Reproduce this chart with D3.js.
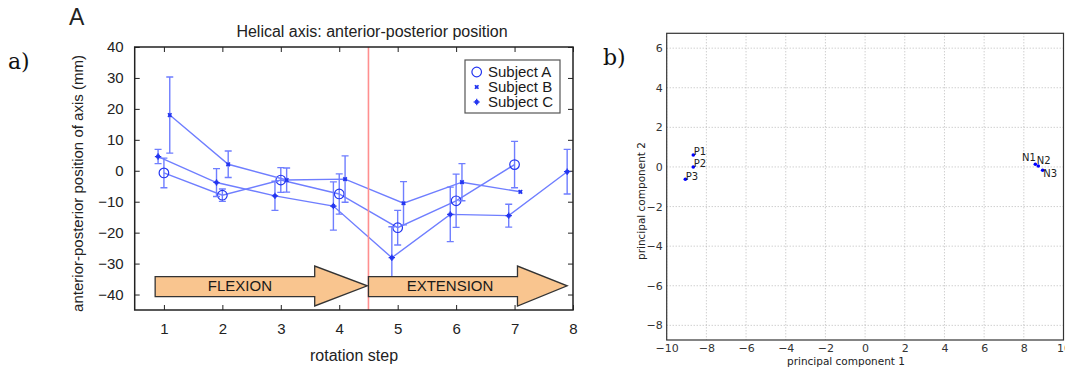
<!DOCTYPE html>
<html>
<head>
<meta charset="utf-8">
<script src="https://cdn.jsdelivr.net/npm/d3@7"></script>
<style>
  html, body { margin: 0; padding: 0; background: #fff; }
  svg { display: block; }
</style>
</head>
<body>
<svg id="fig" width="1065" height="367"></svg>
<script>
// ---- Panel a: helical axis anterior-posterior position ----
const stepsA = [1, 2, 3, 4, 5, 6, 7];
const subjectA = [-0.7, -7.9, -3.0, -7.5, -18.4, -9.7, 2.0];
const subjectAErr = [4.8, 2.0, 4.0, 6.5, 5.6, 8.6, 7.5];

const stepsB = [1.1, 2.1, 3.1, 4.1, 5.1, 6.1, 7.1];
const subjectB = [18.0, 2.1, -3.0, -2.7, -10.5, -3.7, -6.8];
const subjectBErr = [12.3, 4.3, 3.9, 7.5, 7.0, 6.0, null];

const stepsC = [0.9, 1.9, 2.9, 3.9, 4.9, 5.9, 6.9, 7.9];
const subjectC = [4.6, -3.8, -8.1, -11.4, -28.1, -14.1, -14.5, -0.3];
const subjectCErr = [2.3, 4.5, 4.7, 7.8, 10.0, 8.8, 3.7, 7.2];

const stepTicks = [1, 2, 3, 4, 5, 6, 7, 8];
const positionTicks = [-40, -30, -20, -10, 0, 10, 20, 30, 40];
const seriesNames = ["Subject A", "Subject B", "Subject C"];
const phaseNames = ["FLEXION", "EXTENSION"];
const phaseSplit = 4.5;

// ---- Panel b: principal component scores ----
const pcNames = ["P1", "P2", "P3", "N1", "N2", "N3"];
const pc1 = [-8.66, -8.66, -9.06, 8.58, 8.73, 8.95];
const pc2 = [0.6, 0.0, -0.62, 0.14, 0.05, -0.17];
const pc1Ticks = [-10, -8, -6, -4, -2, 0, 2, 4, 6, 8, 10];
const pc2Ticks = [-8, -6, -4, -2, 0, 2, 4, 6];

const svg = d3.select("#fig");
const SANS = "'Liberation Sans', Arial, sans-serif";
const DEJAVU = "'DejaVu Sans', sans-serif";
const SERIF = "'DejaVu Serif', 'Liberation Serif', serif";
const lineBlue = "#6f7eff";
const markBlue = "#2436f0";
const ink = "#222";

// panel tags
svg.append("text").attr("x", 8).attr("y", 69).attr("font-family", SERIF)
  .attr("font-size", 22).attr("fill", "#111").text("a)");
svg.append("text").attr("x", 603).attr("y", 65).attr("font-family", SERIF)
  .attr("font-size", 22).attr("fill", "#111").text("b)");

// ================= Panel a =================
const ga = svg.append("g");
const L = 134.7, R = 573, T = 47, B = 310;
const x = d3.scaleLinear().domain([0.5, 8]).range([L, R]);
const y = d3.scaleLinear().domain([-45, 40]).range([B, T]);

ga.append("text").attr("x", 69).attr("y", 25).attr("font-family", SANS)
  .attr("font-size", 23).attr("fill", ink).text("A");
ga.append("text").attr("x", 372).attr("y", 37).attr("text-anchor", "middle")
  .attr("font-family", SANS).attr("font-size", 16).attr("fill", ink)
  .text("Helical axis: anterior-posterior position");

// axes with inward ticks on all four sides
const axBottom = d3.axisBottom(x).tickValues(stepTicks).tickSize(-5).tickPadding(13).tickFormat(d3.format("d"));
const axTop = d3.axisTop(x).tickValues(stepTicks).tickSize(-5).tickFormat("");
const axLeft = d3.axisLeft(y).tickValues(positionTicks).tickSize(-5).tickPadding(11).tickFormat(d3.format("d"));
const axRight = d3.axisRight(y).tickValues(positionTicks).tickSize(-5).tickFormat("");

function styleAxis(g, fs) {
  g.select(".domain").remove();
  g.selectAll(".tick line").attr("stroke", ink).attr("stroke-width", 1);
  g.selectAll(".tick text").attr("font-family", SANS).attr("font-size", fs).attr("fill", ink);
}
ga.append("g").attr("transform", `translate(0,${B})`).call(axBottom).call(g => styleAxis(g, 15));
ga.append("g").attr("transform", `translate(0,${T})`).call(axTop).call(g => styleAxis(g, 15));
ga.append("g").attr("transform", `translate(${L},0)`).call(axLeft).call(g => styleAxis(g, 15));
ga.append("g").attr("transform", `translate(${R},0)`).call(axRight).call(g => styleAxis(g, 15));

ga.append("text").attr("x", 354).attr("y", 361).attr("text-anchor", "middle")
  .attr("font-family", SANS).attr("font-size", 16).attr("fill", ink).text("rotation step");
ga.append("text").attr("transform", `translate(83,${(T + B) / 2 + 5}) rotate(-90)`)
  .attr("text-anchor", "middle").attr("font-family", SANS).attr("font-size", 15)
  .attr("fill", ink).text("anterior-posterior position of axis (mm)");

const plot = ga.append("g");
const series = [
  { xs: stepsA, ys: subjectA, err: subjectAErr, mark: "circle" },
  { xs: stepsB, ys: subjectB, err: subjectBErr, mark: "x" },
  { xs: stepsC, ys: subjectC, err: subjectCErr, mark: "star" }
];
const line = d3.line().x(d => x(d[0])).y(d => y(d[1]));

function drawMarker(g, kind, cx, cy) {
  if (kind === "circle") {
    g.append("circle").attr("cx", cx).attr("cy", cy).attr("r", 4.8)
      .attr("fill", "none").attr("stroke", markBlue).attr("stroke-width", 1.2);
  } else if (kind === "x") {
    const s = 1.8;
    g.append("path").attr("d", `M${cx - s},${cy - s}L${cx + s},${cy + s}M${cx - s},${cy + s}L${cx + s},${cy - s}`)
      .attr("stroke", markBlue).attr("stroke-width", 1.6);
    g.append("circle").attr("cx", cx).attr("cy", cy).attr("r", 1.6).attr("fill", markBlue);
  } else {
    const s = 3.2;
    g.append("path").attr("d", `M${cx - s},${cy}L${cx + s},${cy}M${cx},${cy - s}L${cx},${cy + s}`)
      .attr("stroke", markBlue).attr("stroke-width", 1.2);
    g.append("circle").attr("cx", cx).attr("cy", cy).attr("r", 2.2).attr("fill", markBlue);
  }
}

series.forEach(s => {
  const pts = s.xs.map((v, i) => [v, s.ys[i]]);
  plot.append("path").attr("d", line(pts)).attr("fill", "none")
    .attr("stroke", lineBlue).attr("stroke-width", 1.4);
  pts.forEach((p, i) => {
    const e = s.err[i];
    if (e == null) return;
    const cx = x(p[0]), y0 = y(p[1] + e), y1 = y(p[1] - e);
    plot.append("path")
      .attr("d", `M${cx},${y0}L${cx},${y1}M${cx - 3.5},${y0}L${cx + 3.5},${y0}M${cx - 3.5},${y1}L${cx + 3.5},${y1}`)
      .attr("stroke", lineBlue).attr("stroke-width", 1.4).attr("fill", "none");
  });
  pts.forEach(p => drawMarker(plot, s.mark, x(p[0]), y(p[1])));
});

// phase boundary
ga.append("line").attr("x1", x(phaseSplit)).attr("x2", x(phaseSplit)).attr("y1", T).attr("y2", B)
  .attr("stroke", "#ff8f8f").attr("stroke-width", 1.6);

// phase arrows
function arrow(x0, xShaft, xTip, label) {
  const bt = y(-34.2), bb = y(-40.7), ht = y(-30.8), hb = y(-43.7), mid = y(-37.2);
  const d = `M${x(x0)},${bt}L${x(xShaft)},${bt}L${x(xShaft)},${ht}L${x(xTip)},${mid}` +
            `L${x(xShaft)},${hb}L${x(xShaft)},${bb}L${x(x0)},${bb}Z`;
  ga.append("path").attr("d", d).attr("fill", "#f9c58f").attr("stroke", "#333").attr("stroke-width", 1.3);
  ga.append("text").attr("x", (x(x0) + x(xShaft)) / 2 + (label === "FLEXION" ? 5 : 7)).attr("y", mid + 5.5)
    .attr("text-anchor", "middle").attr("font-family", SANS).attr("font-size", 15)
    .attr("fill", "#1a1a1a").text(label);
}
arrow(0.85, 3.58, 4.48, phaseNames[0]);
arrow(phaseSplit, 7.05, 7.9, phaseNames[1]);

// frame
ga.append("rect").attr("x", L).attr("y", T).attr("width", R - L).attr("height", B - T)
  .attr("fill", "none").attr("stroke", ink).attr("stroke-width", 1.5);

// legend
const lg = ga.append("g");
lg.append("rect").attr("x", 465).attr("y", 60).attr("width", 95).attr("height", 53)
  .attr("fill", "#fff").attr("stroke", "#555").attr("stroke-width", 1.2);
seriesNames.forEach((name, i) => {
  const cy = 72 + i * 15;
  drawMarker(lg, series[i].mark, 476.7, cy);
  lg.append("text").attr("x", 488).attr("y", cy + 5.3).attr("font-family", SANS)
    .attr("font-size", 15).attr("fill", "#1a1a1a").text(name);
});

// ================= Panel b =================
const gb = svg.append("g");
const L2 = 666.7, R2 = 1063.5, T2 = 33.3, B2 = 340;
const xs = d3.scaleLinear().domain([-10, 10]).range([L2, R2]);
const ys = d3.scaleLinear().domain([-8.74, 6.75]).range([B2, T2]);
const fmt = d => (d < 0 ? "\u2212" + Math.abs(d) : String(d));

// dotted grid
gb.append("g").selectAll("line").data(pc1Ticks).join("line")
  .attr("x1", d => xs(d)).attr("x2", d => xs(d)).attr("y1", T2).attr("y2", B2)
  .attr("stroke", "#aaa").attr("stroke-width", 0.8).attr("stroke-dasharray", "1,2");
gb.append("g").selectAll("line").data(pc2Ticks).join("line")
  .attr("x1", L2).attr("x2", R2).attr("y1", d => ys(d)).attr("y2", d => ys(d))
  .attr("stroke", "#aaa").attr("stroke-width", 0.8).attr("stroke-dasharray", "1,2");

const bx = d3.axisBottom(xs).tickValues(pc1Ticks).tickSize(0).tickPadding(4).tickFormat(fmt);
const by = d3.axisLeft(ys).tickValues(pc2Ticks).tickSize(0).tickPadding(4).tickFormat(fmt);
function styleB(g) {
  g.select(".domain").remove();
  g.selectAll(".tick text").attr("font-family", DEJAVU).attr("font-size", 11).attr("fill", "#333");
}
gb.append("g").attr("transform", `translate(0,${B2})`).call(bx).call(styleB);
gb.append("g").attr("transform", `translate(${L2},0)`).call(by).call(styleB);

gb.append("rect").attr("x", L2).attr("y", T2).attr("width", R2 - L2).attr("height", B2 - T2)
  .attr("fill", "none").attr("stroke", "#333").attr("stroke-width", 1.2);

gb.append("text").attr("x", 846).attr("y", 365).attr("text-anchor", "middle")
  .attr("font-family", DEJAVU).attr("font-size", 10.5).attr("fill", "#222").text("principal component 1");
gb.append("text").attr("transform", "translate(645,201) rotate(-90)").attr("text-anchor", "middle")
  .attr("font-family", DEJAVU).attr("font-size", 10.5).attr("fill", "#222").text("principal component 2");

// score points with their labels
const labelPlace = [
  { dx: 0.5, dy: 0, anchor: "start" },
  { dx: 0.5, dy: 0.5, anchor: "start" },
  { dx: 0.5, dy: 1, anchor: "start" },
  { dx: 0.5, dy: -3, anchor: "end" },
  { dx: -1.5, dy: -1.5, anchor: "start" },
  { dx: 0.5, dy: 7, anchor: "start" }
];
pcNames.forEach((name, i) => {
  const px = xs(pc1[i]), py = ys(pc2[i]);
  gb.append("circle").attr("cx", px).attr("cy", py).attr("r", 1.8).attr("fill", "#0000ff");
  const lp = labelPlace[i];
  gb.append("text").attr("x", px + lp.dx).attr("y", py + lp.dy).attr("text-anchor", lp.anchor)
    .attr("font-family", DEJAVU).attr("font-size", 10).attr("fill", "#222").text(name);
});
</script>
</body>
</html>
